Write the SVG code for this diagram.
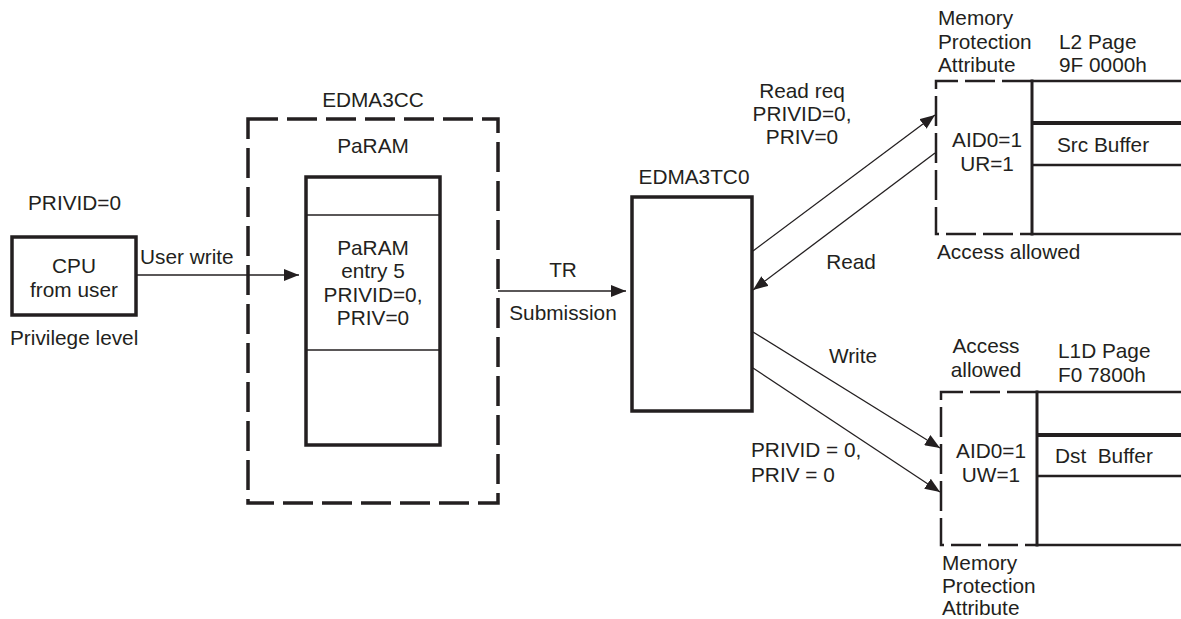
<svg xmlns="http://www.w3.org/2000/svg" width="1181" height="619" viewBox="0 0 1181 619">
<style>
text{font-family:"Liberation Sans",Arial,Helvetica,sans-serif;font-size:20.8px;fill:#231f20}
.c{text-anchor:middle}
.thick{fill:none;stroke:#231f20;stroke-width:3.5}
.thin{fill:none;stroke:#231f20;stroke-width:1.5}
.dash{fill:none;stroke:#231f20;stroke-width:3.5;stroke-dasharray:30 9}
.dash2{fill:none;stroke:#231f20;stroke-width:2.5;stroke-dasharray:30 7}
.mem{fill:none;stroke:#231f20;stroke-width:2.5}
.memb{fill:none;stroke:#231f20;stroke-width:4}
.arr{fill:none;stroke:#231f20;stroke-width:1.3;marker-end:url(#ah)}
</style>
<defs>
<marker id="ah" markerUnits="userSpaceOnUse" markerWidth="16" markerHeight="12" refX="15" refY="6" orient="auto">
<path d="M0,0 L15,6 L0,12 z" fill="#231f20"/>
</marker>
</defs>
<rect width="1181" height="619" fill="#fff"/>

<g id="cpu">
<rect class="thick" x="12" y="237" width="124" height="78"/>
<text class="c" x="74" y="273">CPU</text>
<text class="c" x="74" y="297">from user</text>
<text x="28" y="210">PRIVID=0</text>
<text x="10" y="345">Privilege level</text>
</g>

<g id="edma3cc">
<rect class="dash" x="248" y="119" width="250" height="384"/>
<text class="c" x="373" y="107">EDMA3CC</text>
<text class="c" x="373" y="153">PaRAM</text>
</g>

<g id="param">
<rect class="thick" x="306" y="177" width="134" height="268"/>
<line class="thin" x1="306" y1="215" x2="440" y2="215"/>
<line class="thin" x1="306" y1="350" x2="440" y2="350"/>
<text class="c" x="373" y="255">PaRAM</text>
<text class="c" x="373" y="278">entry 5</text>
<text class="c" x="373" y="302">PRIVID=0,</text>
<text class="c" x="373" y="325">PRIV=0</text>
</g>

<g id="edma3tc0">
<rect class="thick" x="632" y="197" width="120" height="214"/>
<text class="c" x="694" y="184">EDMA3TC0</text>
</g>

<g id="l2page">
<path class="dash2" d="M1032,81 H936 V234 H1032"/>
<line class="mem" x1="1032" y1="79.5" x2="1032" y2="235.5" style="stroke-width:3"/>
<line class="mem" x1="1032" y1="81" x2="1181" y2="81"/>
<line class="memb" x1="1032" y1="123" x2="1181" y2="123"/>
<line class="mem" x1="1032" y1="165" x2="1181" y2="165"/>
<line class="mem" x1="1032" y1="234" x2="1181" y2="234"/>
<text x="938" y="25">Memory</text>
<text x="938" y="49">Protection</text>
<text x="938" y="72">Attribute</text>
<text x="1059" y="49">L2 Page</text>
<text x="1059" y="72">9F 0000h</text>
<text class="c" x="987" y="147">AID0=1</text>
<text class="c" x="987" y="171">UR=1</text>
<text x="1057" y="152">Src Buffer</text>
<text x="937" y="259">Access allowed</text>
</g>

<g id="l1dpage">
<path class="dash2" d="M1037,392 H941 V545 H1037"/>
<line class="mem" x1="1037" y1="390.5" x2="1037" y2="546.5" style="stroke-width:3"/>
<line class="mem" x1="1037" y1="392" x2="1181" y2="392"/>
<line class="memb" x1="1037" y1="435" x2="1181" y2="435"/>
<line class="mem" x1="1037" y1="476" x2="1181" y2="476"/>
<line class="mem" x1="1037" y1="545" x2="1181" y2="545"/>
<text class="c" x="986" y="353">Access</text>
<text class="c" x="986" y="377">allowed</text>
<text x="1058" y="358">L1D Page</text>
<text x="1058" y="382">F0 7800h</text>
<text class="c" x="991" y="458">AID0=1</text>
<text class="c" x="991" y="482">UW=1</text>
<text x="1055" y="463" xml:space="preserve">Dst  Buffer</text>
<text x="942" y="570">Memory</text>
<text x="942" y="593">Protection</text>
<text x="942" y="615">Attribute</text>
</g>

<g id="connectors">
<line class="arr" x1="136" y1="275" x2="299" y2="275"/>
<text x="140" y="264">User write</text>
<line class="arr" x1="498" y1="291" x2="626" y2="291"/>
<text class="c" x="563" y="277">TR</text>
<text class="c" x="563" y="320">Submission</text>
<line class="arr" x1="753" y1="251" x2="935" y2="115"/>
<text class="c" x="802" y="98">Read req</text>
<text class="c" x="802" y="121">PRIVID=0,</text>
<text class="c" x="802" y="144">PRIV=0</text>
<line class="arr" x1="935" y1="153" x2="753" y2="290"/>
<text class="c" x="851" y="269">Read</text>
<line class="arr" x1="753" y1="332" x2="940" y2="448"/>
<line class="arr" x1="753" y1="368" x2="940" y2="492"/>
<text class="c" x="853" y="363">Write</text>
<text x="751" y="457">PRIVID = 0,</text>
<text x="751" y="482">PRIV = 0</text>
</g>
</svg>
